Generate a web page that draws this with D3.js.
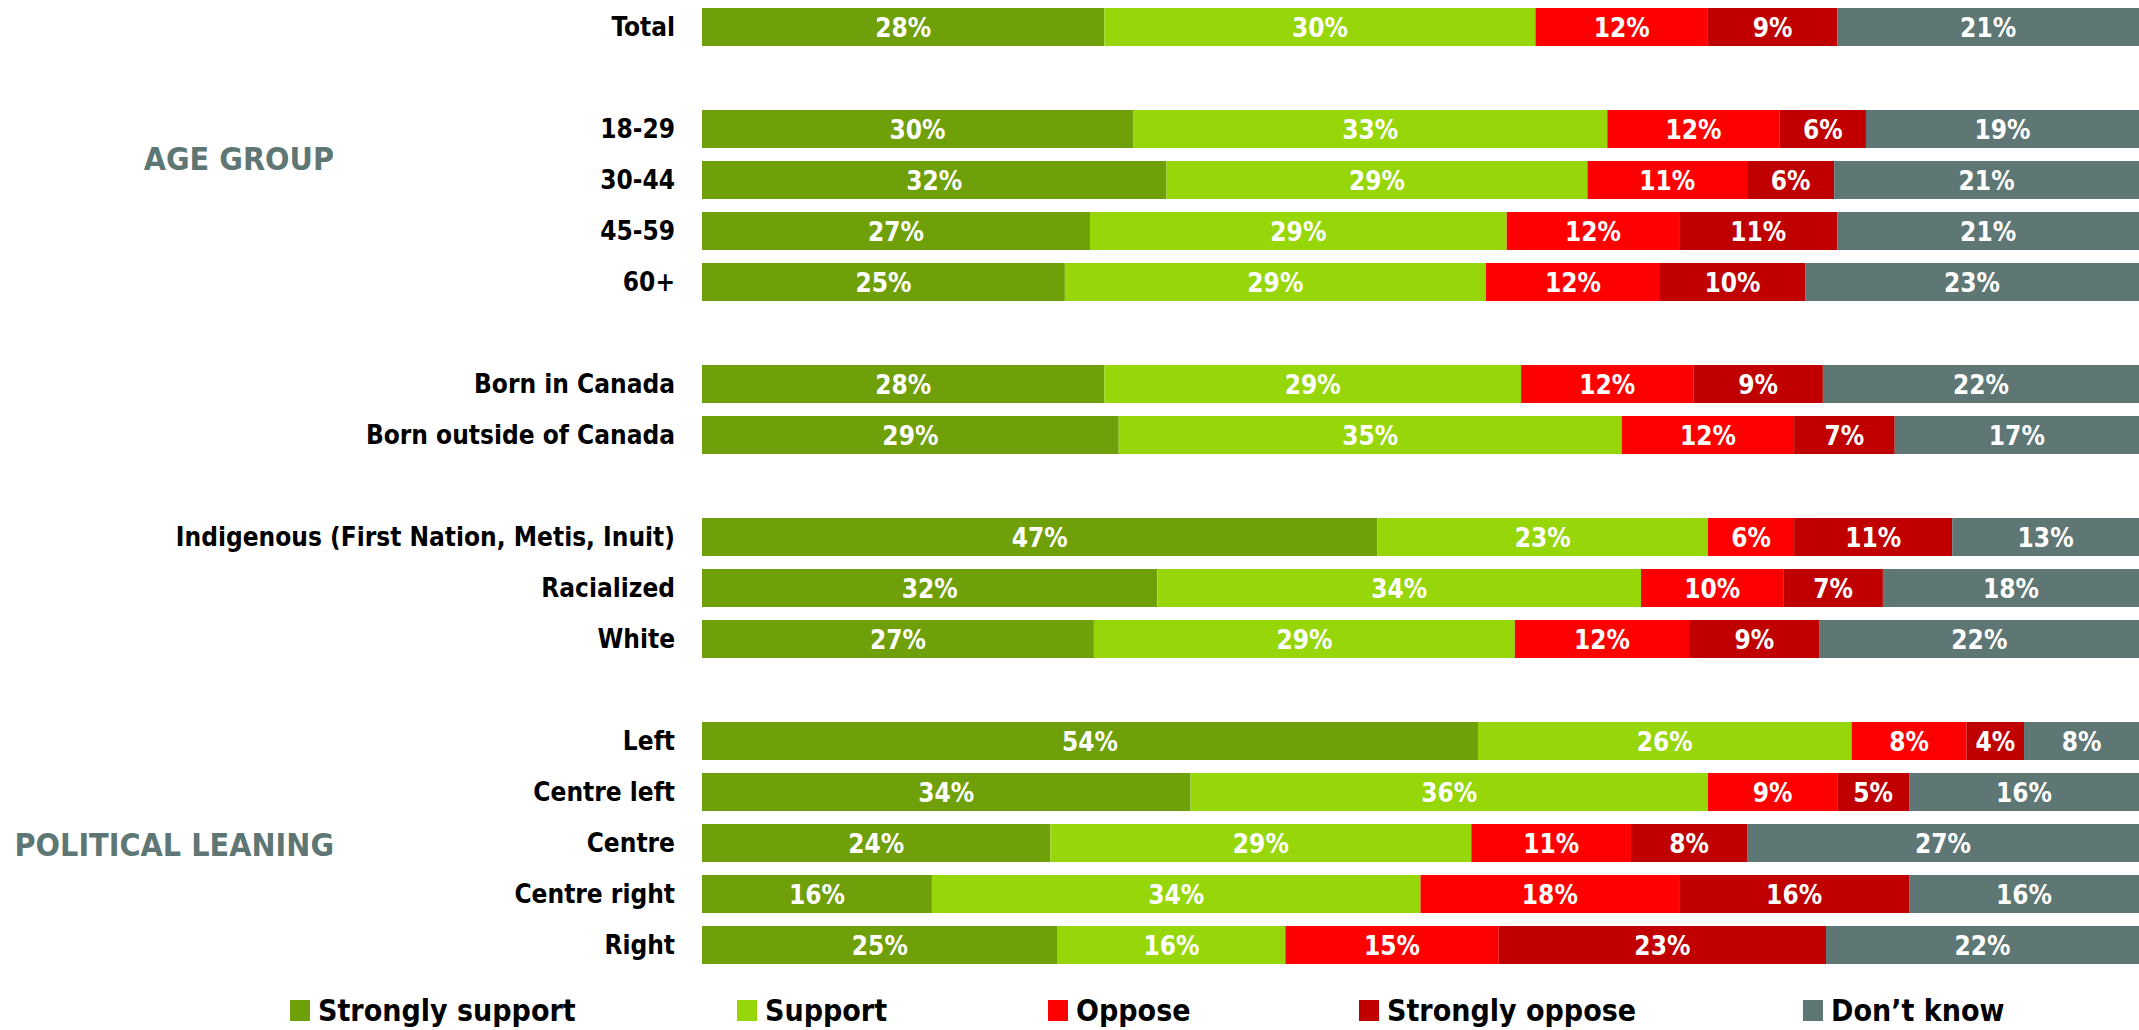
<!DOCTYPE html>
<html>
<head>
<meta charset="utf-8">
<script src="https://cdn.jsdelivr.net/npm/d3@7"></script>
<style>
  html, body { margin: 0; padding: 0; background: #fff; }
  svg { display: block; font-family: "Liberation Sans Narrow", "DejaVu Sans Condensed", "Liberation Sans", sans-serif; }
</style>
</head>
<body>
<div id="js_chart"></div>
<script>
const keys = ["Strongly support", "Support", "Oppose", "Strongly oppose", "Don\u2019t know"];
const colors = ["#6fa00a", "#97d70a", "#ff0000", "#c00000", "#5f7774"];

// row labels, null = spacer between groups
const rows = [
  "Total", null,
  "18-29", "30-44", "45-59", "60+", null,
  "Born in Canada", "Born outside of Canada", null,
  "Indigenous (First Nation, Metis, Inuit)", "Racialized", "White", null,
  "Left", "Centre left", "Centre", "Centre right", "Right"
];

const stronglySupport = [28, 30, 32, 27, 25, 28, 29, 47, 32, 27, 54, 34, 24, 16, 25];
const support          = [30, 33, 29, 29, 29, 29, 35, 23, 34, 29, 26, 36, 29, 34, 16];
const oppose           = [12, 12, 11, 12, 12, 12, 12, 6, 10, 12, 8, 9, 11, 18, 15];
const stronglyOppose   = [9, 6, 6, 11, 10, 9, 7, 11, 7, 9, 4, 5, 8, 16, 23];
const dontKnow         = [21, 19, 21, 21, 23, 22, 17, 13, 18, 22, 8, 16, 27, 16, 22];

const groupLabels = [
  { text: "AGE GROUP", row: "18-29", shift: 0.58 },
  { text: "POLITICAL LEANING", row: "Centre", shift: 0.03 }
];

const width = 2139;
const height = 1030;
const barLeft = 702;
const labelRight = 675;
const groupRight = 334;

const slots = rows.map((r, i) => r === null ? `gap${i}` : r);
const categories = rows.filter(r => r !== null);

const table = categories.map((c, i) => {
  const vals = [stronglySupport[i], support[i], oppose[i], stronglyOppose[i], dontKnow[i]];
  const total = d3.sum(vals);
  const d = { category: c, total };
  keys.forEach((k, j) => { d[k] = vals[j]; });
  return d;
});

const svg = d3.select("#js_chart")
  .append("svg")
  .attr("width", width)
  .attr("height", height)
  .attr("viewBox", [0, 0, width, height]);

const y = d3.scaleBand()
  .domain(slots)
  .range([1.5, 970.5])
  .paddingInner(0.255)
  .paddingOuter(0.1275);

const x = d3.scaleLinear()
  .domain([0, 1])
  .range([barLeft, width]);

// normalise each row so the bar fills the width
const stack = d3.stack()
  .keys(keys)
  .value((d, k) => d[k] / d.total);
const series = stack(table);

const layer = svg.append("g")
  .selectAll("g")
  .data(series)
  .join("g")
    .attr("fill", (d, i) => colors[i]);

layer.selectAll("rect")
  .data(d => d)
  .join("rect")
    .attr("x", d => x(d[0]))
    .attr("y", d => y(d.data.category))
    .attr("width", d => x(d[1]) - x(d[0]))
    .attr("height", y.bandwidth());

layer.selectAll("text")
  .data(d => d.map(v => Object.assign(v, { key: d.key })))
  .join("text")
    .attr("x", d => (x(d[0]) + x(d[1])) / 2)
    .attr("y", d => y(d.data.category) + y.bandwidth() / 2)
    .attr("dy", "0.37em")
    .attr("text-anchor", "middle")
    .attr("fill", "#fff")
    .attr("font-size", 26)
    .attr("font-weight", "bold")
    .text(d => `${d.data[d.key]}%`);

// category labels
svg.append("g")
  .selectAll("text")
  .data(categories)
  .join("text")
    .attr("x", labelRight)
    .attr("y", d => y(d) + y.bandwidth() / 2)
    .attr("dy", "0.36em")
    .attr("text-anchor", "end")
    .attr("font-size", 26)
    .attr("font-weight", "bold")
    .attr("fill", "#000")
    .text(d => d);

// group labels
svg.append("g")
  .selectAll("text")
  .data(groupLabels)
  .join("text")
    .attr("x", groupRight)
    .attr("y", d => y(d.row) + y.bandwidth() / 2 + d.shift * y.step())
    .attr("dy", "0.37em")
    .attr("text-anchor", "end")
    .attr("font-size", 32)
    .attr("font-weight", "bold")
    .attr("fill", "#5f7774")
    .text(d => d.text);

// legend
const legendX = [290, 737, 1048, 1359, 1803];
const legendY = 1010;
const legend = svg.append("g")
  .selectAll("g")
  .data(keys)
  .join("g")
    .attr("transform", (d, i) => `translate(${legendX[i]},${legendY})`);

legend.append("rect")
  .attr("x", 0)
  .attr("y", -10)
  .attr("width", 20)
  .attr("height", 21)
  .attr("fill", (d, i) => colors[i]);

legend.append("text")
  .attr("x", 28)
  .attr("y", 0)
  .attr("dy", "0.36em")
  .attr("font-size", 30)
  .attr("font-weight", "bold")
  .attr("fill", "#000")
  .text(d => d);
</script>
</body>
</html>
